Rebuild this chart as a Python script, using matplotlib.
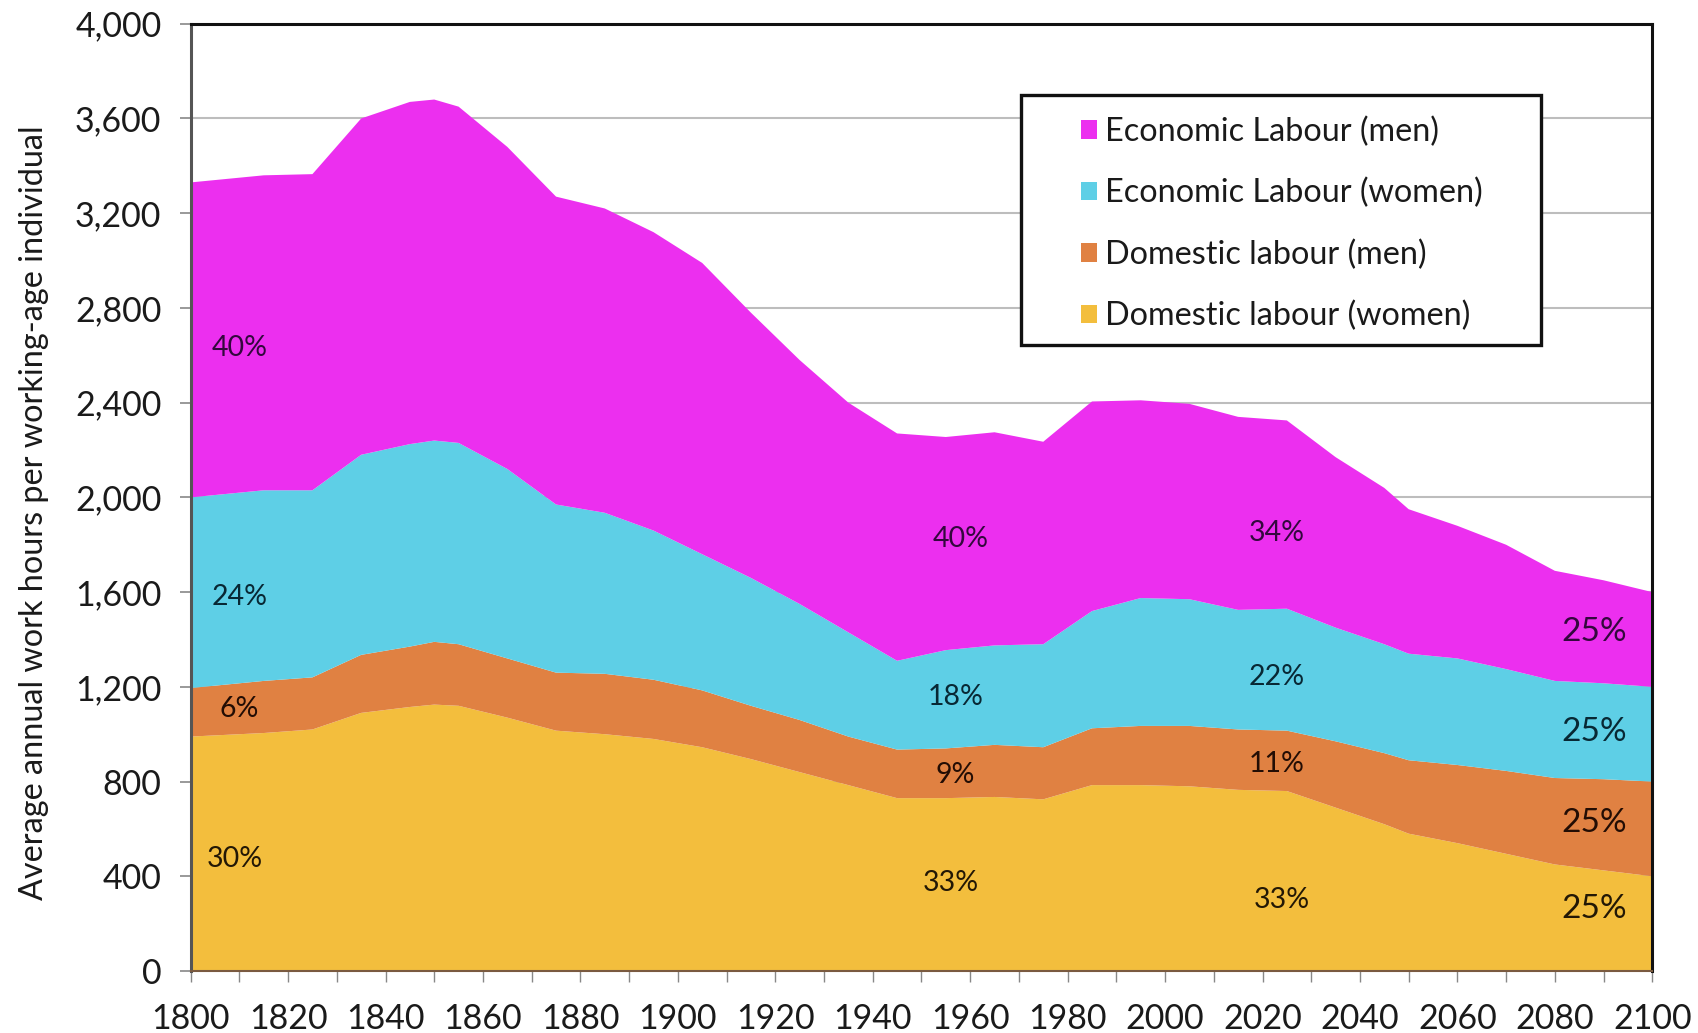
import matplotlib
matplotlib.use("Agg")
import matplotlib.pyplot as plt
from matplotlib.patches import Rectangle
from matplotlib.ticker import FuncFormatter, MultipleLocator

plt.rcParams['font.family'] = ['Lato', 'DejaVu Sans']

years = [1800, 1815, 1825, 1835, 1845, 1850, 1855, 1865, 1875, 1885, 1895, 1905,
         1915, 1925, 1935, 1945, 1955, 1965, 1975, 1985, 1995, 2005, 2015, 2025,
         2035, 2045, 2050, 2060, 2070, 2080, 2090, 2100]

# hours per working-age individual, by layer (bottom to top)
domestic_women = [990, 1005, 1020, 1090, 1115, 1125, 1120, 1070, 1015, 1000, 980, 945,
                  895, 840, 785, 730, 730, 735, 725, 785, 785, 780, 765, 760,
                  690, 620, 580, 540, 495, 450, 425, 400]
domestic_men = [205, 220, 220, 245, 255, 265, 260, 250, 245, 255, 250, 240,
                225, 220, 205, 205, 210, 220, 220, 240, 250, 255, 255, 255,
                280, 300, 310, 330, 350, 365, 385, 400]
economic_women = [805, 805, 790, 845, 855, 850, 850, 800, 710, 680, 630, 575,
                  540, 490, 440, 375, 415, 420, 435, 495, 540, 535, 505, 515,
                  480, 460, 450, 450, 430, 410, 405, 400]
economic_men = [1330, 1330, 1335, 1420, 1445, 1440, 1420, 1360, 1300, 1285, 1260, 1230,
                1120, 1030, 970, 960, 900, 900, 855, 885, 835, 825, 815, 795,
                720, 660, 610, 560, 525, 465, 435, 400]

series_names = ['Domestic labour (women)', 'Domestic labour (men)',
                'Economic Labour (women)', 'Economic Labour (men)']
colors = ['#F3BE3D', '#E08142', '#5ECFE6', '#EC2FEF']
text_colors = ['#231805', '#230d04', '#082834', '#33083d']

# share labels: (year, hours, text, layer index)
share_labels = [
    (1810, 2630, '40%', 3), (1810, 1580, '24%', 2), (1810, 1105, '6%', 1), (1809, 475, '30%', 0),
    (1958, 1825, '40%', 3), (1957, 1157, '18%', 2), (1957, 827, '9%', 1), (1956, 370, '33%', 0),
    (2023, 1850, '34%', 3), (2023, 1243, '22%', 2), (2023, 873, '11%', 1), (2024, 302, '33%', 0),
]
share_labels_2100 = [(2088, 1430, '25%', 3), (2088, 1010, '25%', 2),
                     (2088, 626, '25%', 1), (2088, 262, '25%', 0)]

fig = plt.figure(figsize=(16.99, 10.33), dpi=100)
ax = fig.add_axes([0.1122, 0.060, 0.8603, 0.917])

ax.stackplot(years, domestic_women, domestic_men, economic_women, economic_men,
             colors=colors, labels=series_names, linewidth=0, zorder=2)

ax.set_xlim(1800, 2100)
ax.set_ylim(0, 4000)
ax.yaxis.set_major_locator(MultipleLocator(400))
ax.yaxis.set_major_formatter(FuncFormatter(lambda v, p: f'{v:,.0f}'))
ax.xaxis.set_major_locator(MultipleLocator(20))
ax.xaxis.set_minor_locator(MultipleLocator(10))
ax.grid(axis='y', color='#bdbdbd', linewidth=1.5, zorder=0)
ax.set_axisbelow(True)

ax.tick_params(axis='both', labelsize=24.5, labelcolor='#1a1a1a')
ax.tick_params(axis='y', length=8, width=1.2, color='#888888', pad=13)
ax.tick_params(axis='x', which='both', length=8, width=1.0, color='#888888', pad=15)
ax.tick_params(axis='x', which='minor', labelbottom=False)

for side in ['top', 'right']:
    ax.spines[side].set_color('#111111')
    ax.spines[side].set_linewidth(2.2)
ax.spines['left'].set_color('#555555')
ax.spines['left'].set_linewidth(2.2)
ax.spines['bottom'].set_color('#7a5a40')
ax.spines['bottom'].set_linewidth(1.5)

ax.set_ylabel('Average annual work hours per working-age individual', fontsize=23.3,
              color='#1a1a1a')
ax.yaxis.set_label_coords(-0.097, 0.484)

for x, y, t, k in share_labels:
    ax.text(x, y, t, fontsize=20.5, ha='center', va='center', color=text_colors[k], zorder=3)
for x, y, t, k in share_labels_2100:
    ax.text(x, y, t, fontsize=24, ha='center', va='center', color=text_colors[k], zorder=3)

# legend box drawn separately so the wide side padding matches
ax.add_patch(Rectangle((0.568, 0.661), 0.356, 0.264, transform=ax.transAxes,
                       facecolor='white', edgecolor='#111111', linewidth=2.4, zorder=4))
handles, labels = ax.get_legend_handles_labels()
leg = ax.legend(handles[::-1], labels[::-1], loc='upper left', bbox_to_anchor=(0.609, 0.902),
                fontsize=23.3, frameon=False, handlelength=0.5, handleheight=0.5,
                handletextpad=0.25, labelspacing=0.96, borderpad=0, borderaxespad=0)
for txt in leg.get_texts():
    txt.set_color('#1a1a1a')
leg.set_zorder(5)

fig.savefig('out.png', dpi=100)
